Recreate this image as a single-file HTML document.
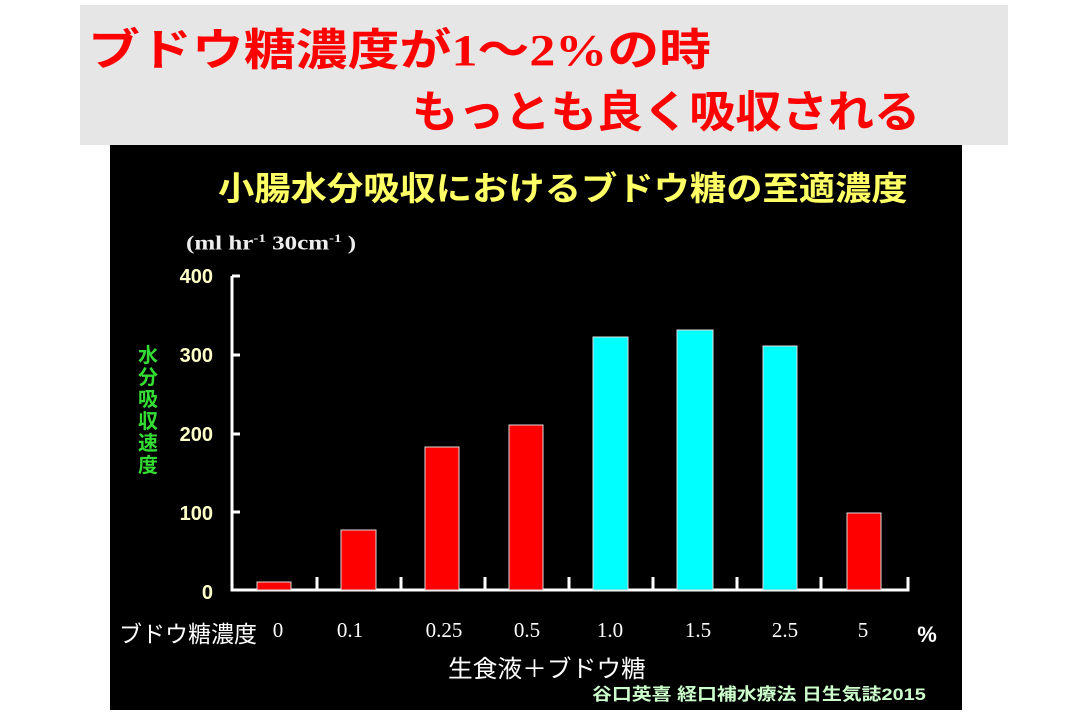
<!DOCTYPE html><html><head><meta charset="utf-8"><style>
body{margin:0;width:1080px;height:720px;background:#fff;position:relative;overflow:hidden;font-family:"Liberation Sans","Noto Sans CJK JP",sans-serif}
.a{position:absolute;white-space:nowrap;transform-origin:0 0}
</style></head><body>
<div class="a" style="left:80px;top:5px;width:928px;height:140px;background:#e6e6e6"></div>
<div class="a" style="left:88px;top:14px;font-size:44px;font-weight:bold;color:#f00;font-family:'Liberation Serif','Noto Sans CJK JP',sans-serif;transform:scaleX(1.18)">ブドウ糖濃度が1～2%の時</div>
<div class="a" style="left:412px;top:76px;font-size:44px;font-weight:bold;color:#f00;transform:scaleX(1.05)">もっとも良く吸収される</div>
<div class="a" style="left:110px;top:145px;width:852px;height:565px;background:#000"></div>
<div class="a" style="left:218px;top:162px;font-size:33px;font-weight:bold;color:#ffff66;transform:scaleX(1.1)">小腸水分吸収におけるブドウ糖の至適濃度</div>
<div class="a" style="left:186px;top:231px;font-size:20px;font-weight:bold;color:#eee;font-family:'Liberation Serif',serif;transform:scaleX(1.25)">(ml hr<sup style="font-size:12px">-1</sup> 30cm<sup style="font-size:12px">-1</sup> )</div>
<div class="a" style="left:136px;top:345px;width:24px;font-size:20px;font-weight:bold;color:#33dd33;line-height:22px;white-space:normal;text-align:center">水分吸収速度</div>
<svg class="a" style="left:0;top:0" width="1080" height="720">
<g fill="#ffffc8" font-size="20" font-weight="bold" text-anchor="end" font-family="Liberation Sans,sans-serif">
<text x="213" y="283">400</text><text x="213" y="362">300</text><text x="213" y="441">200</text><text x="213" y="520">100</text><text x="213" y="599">0</text></g>
<g stroke="#fff" stroke-width="3" fill="none">
<path d="M232 276V590H908V577"/>
<path d="M232 276h8M232 355h8M232 434h8M232 512h8"/>
<path d="M317 590v-13M401 590v-13M485 590v-13M569 590v-13M653 590v-13M737 590v-13M821 590v-13"/></g>
<g stroke="#ddd" stroke-width="1">
<rect x="257" y="582" width="34" height="8" fill="#f00"/>
<rect x="341" y="530" width="35" height="60" fill="#f00"/>
<rect x="425" y="447" width="34" height="143" fill="#f00"/>
<rect x="509" y="425" width="34" height="165" fill="#f00"/>
<rect x="593" y="337" width="35" height="253" fill="#00ffff"/>
<rect x="677" y="330" width="36" height="260" fill="#00ffff"/>
<rect x="763" y="346" width="34" height="244" fill="#00ffff"/>
<rect x="847" y="513" width="34" height="77" fill="#f00"/></g>
<g fill="#fff" font-size="21" font-family="Liberation Serif,serif" text-anchor="middle">
<text x="278" y="637">0</text><text x="350" y="637">0.1</text><text x="444" y="637">0.25</text><text x="527" y="637">0.5</text><text x="610" y="637">1.0</text><text x="698" y="637">1.5</text><text x="785" y="637">2.5</text><text x="863" y="637">5</text></g>
<text x="927" y="642" fill="#fff" font-size="22" font-weight="bold" text-anchor="middle" font-family="Liberation Sans,sans-serif">%</text>
</svg>
<div class="a" style="left:119px;top:615px;font-size:23px;color:#fff">ブドウ糖濃度</div>
<div class="a" style="left:448px;top:649px;font-size:24px;color:#fff;transform:scaleX(1.03)">生食液＋ブドウ糖</div>
<div class="a" style="left:592px;top:680px;font-size:17px;font-weight:bold;color:#ccffcc;transform:scaleX(1.17)">谷口英喜 経口補水療法 日生気誌2015</div>
</body></html>
